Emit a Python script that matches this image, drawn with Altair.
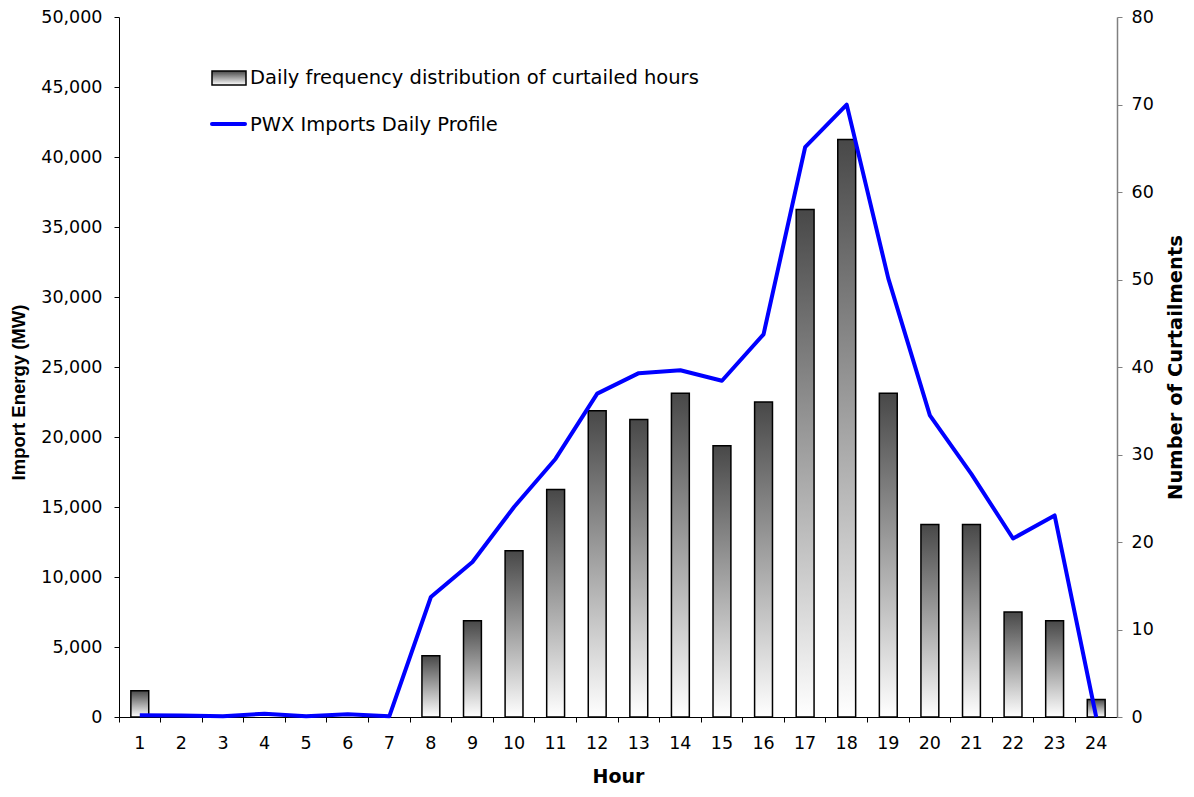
import altair as alt
import pandas as pd

# ---- data ----
hours = list(range(1, 25))
curtailments = [3, 0, 0, 0, 0, 0, 0, 7, 11, 19, 26, 35, 34, 37, 31, 36, 58, 66, 37, 22, 22, 12, 11, 2]
imports_mw = [120, 100, 50, 240, 60, 200, 50, 8570, 11070, 15000, 18450, 23100, 24560, 24770,
              24020, 27330, 40700, 43740, 31330, 21550, 17350, 12750, 14400, 0]
left_ticks = list(range(0, 50001, 5000))
right_ticks = list(range(0, 81, 10))
bar_label = "Daily frequency distribution of curtailed hours"
line_label = "PWX Imports Daily Profile"

df = pd.DataFrame({"hour": hours, "curt": curtailments, "mw": imports_mw})

W, H = 998, 700
FONT = "DejaVu Sans"
TICK_FS = 17.5
LEG_FS = 19.5

grad = alt.LinearGradient(
    gradient="linear",
    stops=[alt.GradientStop(color="#484848", offset=0),
           alt.GradientStop(color="#ffffff", offset=1)],
    x1=0, x2=0, y1=0, y2=1,
)

x_enc = alt.X(
    "hour:O",
    scale=alt.Scale(paddingInner=0, paddingOuter=0),
    axis=alt.Axis(
        title="Hour", labelAngle=0, bandPosition=0,
        tickSize=5, tickColor="black", domainColor="black",
        labelFont=FONT, labelFontSize=TICK_FS, labelColor="black", labelPadding=12,
        titleFont=FONT, titleFontSize=19, titleFontWeight="bold", titleColor="black",
        titleY=59, titleBaseline="middle",
    ),
)

bars = (
    alt.Chart(df)
    .transform_filter("datum.curt > 0")
    .mark_bar(width=alt.RelativeBandSize(0.43), fill=grad, stroke="black", strokeWidth=1.5)
    .encode(
        x=x_enc,
        y=alt.Y(
            "curt:Q",
            scale=alt.Scale(domain=[0, 80], nice=False),
            axis=alt.Axis(
                orient="right", values=right_ticks, title="Number of Curtailments",
                tickSize=5, tickColor="#808080", domainColor="#808080", domainWidth=1.5,
                labelFont=FONT, labelFontSize=TICK_FS, labelColor="black", labelPadding=9,
                titleFont=FONT, titleFontSize=19.5, titleFontWeight="bold", titleColor="black",
                titleAngle=270, titleX=58, titleY=H / 2, titleBaseline="middle",
                titleAlign="center",
            ),
        ),
    )
)

line = (
    alt.Chart(df)
    .mark_line(color="#0000ff", strokeWidth=4, strokeJoin="round")
    .encode(
        x=x_enc,
        y=alt.Y(
            "mw:Q",
            scale=alt.Scale(domain=[0, 50000], nice=False),
            axis=alt.Axis(
                orient="left", values=left_ticks, format=",.0f", title="Import Energy (MW)",
                tickSize=5, tickColor="black", domainColor="black",
                labelFont=FONT, labelFontSize=TICK_FS, labelColor="black", labelPadding=12,
                titleFont="Liberation Sans", titleFontSize=18.5, titleFontWeight="bold",
                titleColor="black", titleAngle=270, titleX=-101, titleY=375,
                titleBaseline="middle", titleAlign="center",
            ),
        ),
    )
)

leg_df = pd.DataFrame({"bar": [bar_label], "line": [line_label]})

leg_swatch = alt.Chart(leg_df).mark_rect(fill=grad, stroke="black", strokeWidth=1.5).encode(
    x=alt.value(93), x2=alt.value(127), y=alt.value(54), y2=alt.value(68)
)
leg_bar_text = alt.Chart(leg_df).mark_text(
    align="left", baseline="middle", font=FONT, fontSize=LEG_FS, color="black"
).encode(x=alt.value(131), y=alt.value(61), text="bar:N")
leg_line = alt.Chart(leg_df).mark_rule(color="#0000ff", strokeWidth=4, strokeCap="round").encode(
    x=alt.value(93), x2=alt.value(126), y=alt.value(107)
)
leg_line_text = alt.Chart(leg_df).mark_text(
    align="left", baseline="middle", font=FONT, fontSize=LEG_FS, color="black"
).encode(x=alt.value(131), y=alt.value(108), text="line:N")

chart = (
    alt.layer(bars, line, leg_swatch, leg_bar_text, leg_line, leg_line_text)
    .resolve_scale(y="independent")
    .properties(
        width=W, height=H,
        autosize=alt.AutoSizeParams(type="none"),
        padding={"left": 111, "top": 9, "right": 69, "bottom": 72},
        background="white",
    )
    .configure_view(stroke=None)
    .configure_axis(grid=False)
)

chart.save("out.html", embed_options={"renderer": "svg", "actions": False})
